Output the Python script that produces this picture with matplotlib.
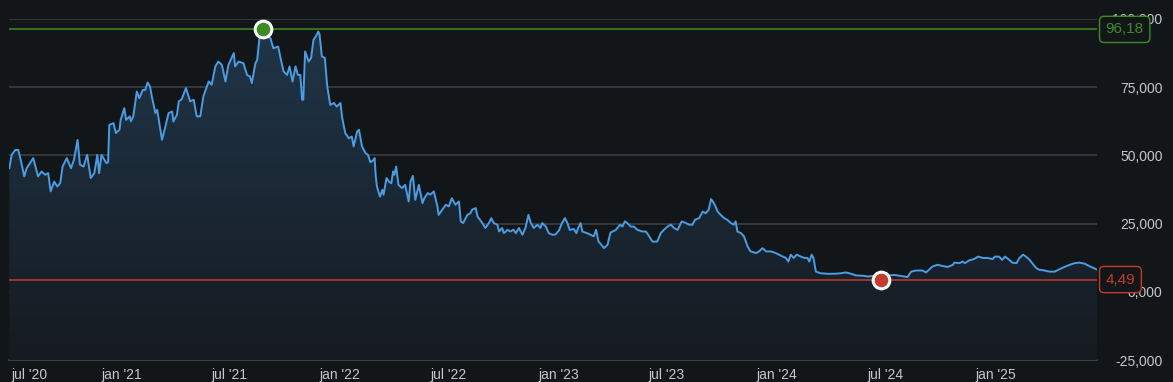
import numpy as np
import pandas as pd
import matplotlib
matplotlib.use("Agg")
import matplotlib.pyplot as plt
import matplotlib.dates as mdates
from matplotlib.colors import LinearSegmentedColormap

# price history (days after start date)
start = pd.Timestamp("2020-06-28")
days = [0, 4, 10, 15, 19, 25, 29, 40, 48, 54, 60, 65, 69, 75, 80, 85, 89, 96, 103, 108,
        114, 118, 124, 130, 136, 142, 147, 150, 154, 162, 165, 167, 174, 178, 184, 186, 192, 195, 201, 203,
        207, 213, 217, 223, 227, 231, 235, 238, 244, 247, 255, 260, 266, 272, 274, 280, 283, 288, 295, 302,
        308, 313, 319, 324, 333, 338, 344, 349, 355, 361, 366, 375, 377, 383, 391, 397, 402, 405, 411, 414,
        418, 423, 430, 436, 441, 449, 453, 458, 464, 468, 473, 478, 482, 486, 489, 491, 494, 500, 504, 508,
        512, 516, 518, 522, 527, 531, 536, 542, 547, 553, 556, 561, 567, 572, 575, 581, 584, 589, 595, 599,
        603, 609, 610, 612, 614, 619, 623, 625, 630, 634, 638, 641, 643, 646, 650, 656, 661, 667, 670, 674,
        678, 684, 690, 693, 699, 703, 709, 715, 717, 723, 729, 734, 739, 745, 751, 754, 758, 765, 770, 773,
        779, 782, 790, 795, 801, 805, 809, 815, 818, 823, 826, 832, 837, 842, 846, 851, 857, 862, 867, 871,
        876, 882, 887, 890, 896, 901, 907, 912, 918, 923, 928, 932, 936, 943, 947, 950, 954, 957, 965, 971,
        976, 980, 984, 989, 993, 999, 1004, 1013, 1020, 1024, 1028, 1032, 1038, 1043, 1049, 1057, 1063, 1067, 1074, 1082,
        1088, 1093, 1099, 1105, 1110, 1116, 1123, 1130, 1135, 1141, 1145, 1152, 1158, 1163, 1168, 1172, 1176, 1179, 1183, 1188,
        1194, 1199, 1205, 1210, 1213, 1216, 1222, 1227, 1233, 1238, 1247, 1252, 1258, 1264, 1272, 1280, 1289, 1297, 1301, 1305,
        1310, 1315, 1322, 1328, 1333, 1336, 1340, 1343, 1347, 1355, 1367, 1378, 1389, 1397, 1406, 1414, 1425, 1434, 1442, 1448,
        1456, 1467, 1478, 1486, 1495, 1500, 1506, 1514, 1525, 1531, 1537, 1542, 1550, 1558, 1567, 1576, 1578, 1587, 1592, 1596,
        1603, 1611, 1618, 1626, 1634, 1642, 1646, 1653, 1658, 1663, 1670, 1675, 1682, 1687, 1693, 1698, 1704, 1709, 1715, 1720,
        1729, 1737, 1746, 1754, 1762, 1771, 1779, 1787, 1796, 1803, 1811, 1817]
values = [45.3, 50.2, 52.0, 52.0, 48.4, 42.3, 45.3, 49.0, 42.3, 44.1, 42.9, 43.5, 36.8, 40.4, 38.6, 39.8, 45.9, 49.0, 45.3, 48.4,
          55.7, 46.6, 45.9, 50.2, 41.7, 43.5, 50.2, 43.5, 50.2, 47.2, 47.5, 61.2, 61.8, 58.2, 59.4, 63.0, 67.3, 63.0, 64.3, 62.5,
          64.3, 73.4, 71.0, 74.0, 74.0, 76.7, 75.3, 71.6, 65.5, 66.7, 55.7, 60.0, 65.5, 66.1, 62.4, 64.9, 69.8, 70.6, 74.7, 69.8,
          70.4, 64.3, 64.3, 71.6, 77.1, 75.9, 82.6, 84.4, 83.2, 77.1, 83.2, 87.5, 82.6, 84.4, 83.8, 79.5, 78.9, 76.5, 83.8, 85.0,
          93.6, 96.18, 93.6, 93.0, 89.3, 89.9, 85.7, 80.8, 79.5, 82.6, 77.1, 82.6, 79.5, 79.5, 70.4, 70.4, 88.1, 84.4, 85.7, 92.4,
          93.6, 95.4, 94.5, 86.3, 85.7, 75.3, 68.5, 69.2, 67.9, 69.2, 63.7, 58.2, 56.3, 56.9, 53.3, 58.8, 59.4, 53.3, 50.8, 50.2,
          47.5, 48.4, 49.0, 42.3, 38.6, 34.9, 37.4, 35.6, 41.7, 40.4, 39.8, 44.1, 42.9, 45.9, 39.2, 38.0, 39.2, 33.1, 40.4, 42.5,
          33.7, 39.2, 32.5, 34.3, 36.2, 35.6, 36.8, 31.3, 28.2, 30.1, 31.9, 31.3, 34.3, 31.9, 33.1, 25.8, 25.2, 28.2, 28.8, 30.1,
          30.7, 27.6, 25.2, 23.4, 25.2, 27.0, 25.2, 24.6, 22.1, 23.4, 21.5, 22.7, 22.1, 22.8, 21.5, 23.4, 20.9, 23.4, 28.2, 25.2,
          23.4, 24.6, 23.4, 25.2, 23.9, 21.5, 20.9, 21.0, 22.5, 25.2, 27.0, 25.2, 22.7, 23.0, 21.5, 23.4, 25.2, 22.1, 21.5, 20.9,
          20.3, 22.7, 18.4, 17.2, 16.0, 17.2, 21.7, 22.7, 24.6, 23.9, 25.8, 25.2, 23.9, 23.9, 22.7, 22.1, 22.1, 20.9, 18.4, 18.4,
          21.5, 22.7, 23.9, 24.6, 23.4, 22.7, 25.8, 25.2, 24.6, 24.6, 26.4, 27.0, 29.4, 28.8, 30.1, 34.0, 32.7, 31.5, 29.4, 28.2,
          27.0, 26.4, 25.2, 24.6, 25.8, 22.1, 21.5, 20.3, 16.6, 14.8, 14.2, 14.8, 16.0, 14.8, 14.8, 14.2, 13.2, 12.4, 11.1, 13.6,
          12.4, 13.6, 12.9, 12.4, 12.4, 11.1, 13.6, 12.4, 7.4, 6.8, 6.6, 6.6, 6.8, 7.1, 6.6, 6.0, 5.9, 5.6, 5.8, 5.4,
          4.49, 5.9, 6.2, 5.9, 5.6, 5.4, 7.4, 7.8, 7.8, 7.1, 8.3, 9.3, 9.9, 9.5, 9.1, 9.9, 10.7, 10.5, 11.1, 10.5,
          11.5, 12.0, 12.9, 12.4, 12.4, 12.0, 12.9, 12.9, 11.7, 12.9, 11.7, 10.7, 10.5, 12.4, 13.6, 12.9, 11.7, 10.3, 8.7, 8.1,
          7.8, 7.4, 7.4, 8.3, 9.1, 9.9, 10.5, 10.7, 10.3, 9.5, 8.7, 8.1]
y_ticks = [-25, 0, 25, 50, 75, 100]

bg = "#131619"
line_c = "#4a9de3"
grid_c = "#3b3f44"
txt_c = "#c4c7cb"
green = "#3c8c26"
red = "#c33b2e"

plt.rcParams["font.family"] = ["Liberation Sans", "DejaVu Sans"]

dates = start + pd.to_timedelta(days, unit="D")
vals = np.array(values)

fig = plt.figure(figsize=(11.73, 3.82), dpi=100, facecolor=bg)
ax = fig.add_axes([9.3 / 1173, 22 / 382, 1088 / 1173, 341 / 382])
ax.set_facecolor(bg)

x0 = mdates.date2num(dates[0])
x1 = mdates.date2num(dates[-1])

# gradient fill under the line
poly = ax.fill_between(dates, vals, -25, color="none", lw=0)
cmap = LinearSegmentedColormap.from_list("g", ["#151b21", "#1b2835", "#20364a"])
grad = np.linspace(0, 1, 256).reshape(-1, 1)
im = ax.imshow(grad, extent=[x0, x1, -25, 100], origin="lower", aspect="auto", cmap=cmap, zorder=1)
im.set_clip_path(poly.get_paths()[0], transform=ax.transData)

ax.plot(dates, vals, color=line_c, lw=1.4, zorder=3)

imax = int(np.argmax(vals))
imin = int(np.argmin(vals))
ax.axhline(vals[imax], color=green, lw=1.1, zorder=2)
ax.axhline(vals[imin], color=red, lw=1.1, zorder=2)
ax.plot(dates[imax], vals[imax], "o", ms=12, mfc=green, mec="white", mew=2.2, zorder=5, clip_on=False)
ax.plot(dates[imin], vals[imin], "o", ms=12, mfc=red, mec="white", mew=2.2, zorder=5, clip_on=False)

for v, c in [(vals[imax], green), (vals[imin], red)]:
    ax.annotate(f"{v:.2f}".replace(".", ","), xy=(1.0, v), xycoords=("axes fraction", "data"),
                xytext=(6, 0), textcoords="offset points", ha="left", va="center",
                color=c, fontsize=11, zorder=10, annotation_clip=False,
                bbox=dict(boxstyle="round,pad=0.4,rounding_size=0.3", fc=bg, ec=c, lw=1))

ax.set_xlim(x0, x1)
ax.set_ylim(-25, 100)

ax.set_yticks(y_ticks)
ax.set_yticklabels([f"{v:.3f}".replace(".", ",") for v in y_ticks])
ax.yaxis.tick_right()
ax.tick_params(axis="y", length=0, pad=47, labelcolor=txt_c, labelsize=10)
for lab in ax.get_yticklabels():
    lab.set_horizontalalignment("right")

xt = pd.date_range("2020-07-01", "2025-01-01", freq="6MS")
ax.set_xticks(xt)
ax.set_xticklabels([("jan" if d.month == 1 else "jul") + f" '{d.year % 100:02d}" for d in xt])
ax.tick_params(axis="x", length=0, pad=6, labelcolor=txt_c, labelsize=10)
ax.get_xticklabels()[0].set_horizontalalignment("left")

ax.grid(axis="y", color=grid_c, lw=1.2, zorder=0)
ax.grid(axis="x", visible=False)
ax.axhline(y_ticks[0], color="#45494e", lw=1.2, zorder=0.5, clip_on=False)
ax.set_axisbelow(True)
for s in ax.spines.values():
    s.set_visible(False)

fig.savefig("out.png", dpi=100, facecolor=bg)
